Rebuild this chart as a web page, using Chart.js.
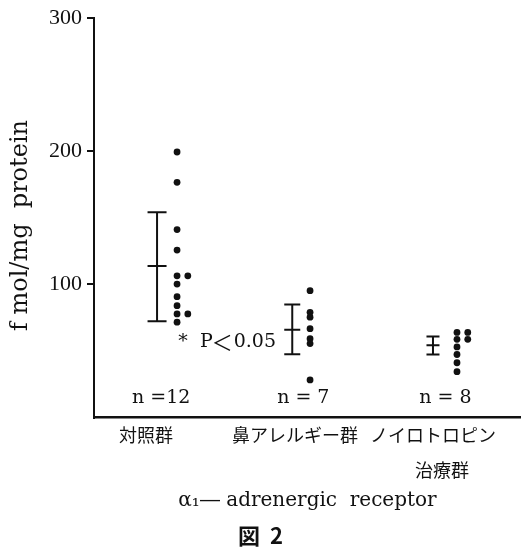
<!DOCTYPE html>
<html lang="ja">
<head>
<meta charset="UTF-8">
<title>α1-adrenergic receptor</title>
<style>
  body {
    margin: 0;
    padding: 0;
    background: #fff;
  }
</style>
</head>
<body>
<canvas id="receptorChart" width="521" height="555"></canvas>

<script src="https://cdn.jsdelivr.net/npm/chart.js"></script>
<script>
  // groups on the x axis
  const categories = ['対照群', '鼻アレルギー群', ['ノイロトロピン', '\u3000治療群']];
  const labelPos = [0.92, 2.0, 3.0];
  const nLabels = ['n =12', 'n = 7', 'n = 8'];
  const nPos = [1.03, 2.06, 3.09];

  // individual values (fmol/mg protein), col = which dot column
  const controlVals = [199.5, 176.7, 141.2, 125.8, 106.5, 100.3, 90.8, 84.1, 77.9, 71.7, 106.5, 77.9];
  const controlCol  = [0, 0, 0, 0, 0, 0, 0, 0, 0, 0, 1, 1];
  const allergyVals = [95.3, 79.1, 75.4, 66.8, 59.3, 55.6, 28.3];
  const allergyCol  = [0, 0, 0, 0, 0, 0, 0];
  const treatedVals = [64.0, 58.8, 53.1, 47.4, 41.2, 34.5, 64.0, 58.8];
  const treatedCol  = [0, 0, 0, 0, 0, 0, 1, 1];

  // mean +/- SD
  const meanVals = [113.9, 66.0, 54.3];
  const sdHigh   = [154.3, 84.9, 61.0];
  const sdLow    = [72.4, 47.6, 47.4];

  const yTicks = [100, 200, 300];

  // placement of the marks along x
  const barX = [1.0, 1.98, 3.0];
  const dotX = [1.145, 2.109, 3.174];
  const colGap = 0.078;
  const capHalf = [9.5, 8, 6.5];

  const groups = [
    [controlVals, controlCol],
    [allergyVals, allergyCol],
    [treatedVals, treatedCol]
  ];

  const dots = [];
  groups.forEach(([vals, cols], g) => {
    vals.forEach((v, i) => dots.push({ x: dotX[g] + cols[i] * colGap, y: v }));
  });

  const caps = [];
  const capRadius = [];
  barX.forEach((x, g) => {
    [sdLow[g], meanVals[g], sdHigh[g]].forEach(v => {
      caps.push({ x: x, y: v });
      capRadius.push(capHalf[g]);
    });
  });

  const ink = '#111';

  const stems = barX.map((x, g) => ({
    type: 'line',
    data: [{ x: x, y: sdLow[g] }, { x: x, y: sdHigh[g] }],
    showLine: true,
    borderColor: ink,
    borderWidth: 2,
    pointRadius: 0
  }));

  // n = .. labels and the significance note
  const notesPlugin = {
    id: 'notes',
    afterDatasetsDraw(chart) {
      const { ctx, scales: { x, y } } = chart;
      ctx.save();
      ctx.fillStyle = ink;
      ctx.textBaseline = 'middle';
      ctx.textAlign = 'center';
      ctx.font = '19px "DejaVu Serif"';
      nLabels.forEach((t, i) => {
        ctx.fillText(t, x.getPixelForValue(nPos[i]), y.getPixelForValue(15));
      });

      // "* P＜0.05", right edge just left of the second error bar
      const py = y.getPixelForValue(56.8);
      let px = x.getPixelForValue(1.862);
      ctx.textAlign = 'right';
      ctx.fillText('0.05', px, py);
      px -= ctx.measureText('0.05').width + 1;
      ctx.font = '21px "Noto Sans CJK JP"';
      ctx.fillText('\uFF1C', px, py);
      px -= ctx.measureText('\uFF1C').width - 1;
      ctx.font = '19px "DejaVu Serif"';
      ctx.fillText('*  P', px, py);
      ctx.restore();
    }
  };

  const receptorChart = new Chart(
    document.getElementById('receptorChart'),
    {
      type: 'scatter',
      data: {
        datasets: [
          ...stems,
          {
            data: caps,
            pointStyle: 'line',
            pointRadius: capRadius,
            borderColor: ink,
            borderWidth: 2
          },
          {
            data: dots,
            pointRadius: 3.4,
            backgroundColor: ink,
            borderWidth: 0
          }
        ]
      },
      options: {
        responsive: false,
        animation: false,
        events: [],
        layout: {
          autoPadding: false,
          padding: { top: 15, right: 0, bottom: 0, left: 0 }
        },
        plugins: {
          legend: { display: false },
          tooltip: { enabled: false },
          title: {
            display: true,
            position: 'bottom',
            text: '図  2',
            color: ink,
            font: { family: '"Noto Sans CJK JP"', size: 22, weight: 'bold' },
            padding: { top: 0, bottom: 6 }
          }
        },
        scales: {
          x: {
            type: 'linear',
            min: 0.543,
            max: 3.638,
            afterBuildTicks: (scale) => {
              scale.ticks = labelPos.map(v => ({ value: v }));
            },
            afterFit: (scale) => { scale.height = 105; },
            grid: { display: false, drawTicks: false },
            border: { display: true, color: ink, width: 2.5 },
            ticks: {
              autoSkip: false,
              maxRotation: 0,
              padding: 0,
              color: ink,
              font: { family: '"Noto Sans CJK JP"', size: 18, lineHeight: 1.95 },
              callback: (v, i) => categories[i]
            },
            title: {
              display: true,
              text: '\u03B1\u2081\u2015 adrenergic  receptor',
              color: ink,
              font: { family: '"DejaVu Serif"', size: 20 },
              padding: { top: 0, bottom: 10 }
            }
          },
          y: {
            min: 0,
            max: 300,
            afterBuildTicks: (scale) => {
              scale.ticks = [0, ...yTicks].map(v => ({ value: v }));
            },
            afterFit: (scale) => { scale.width = 94; },
            grid: {
              drawOnChartArea: false,
              drawTicks: true,
              tickLength: 7,
              lineWidth: 2,
              color: (c) => (c.tick && c.tick.value === 0 ? 'rgba(0,0,0,0)' : ink)
            },
            border: { display: true, color: ink, width: 2 },
            ticks: {
              padding: 5,
              color: ink,
              font: { family: '"Liberation Serif"', size: 22 },
              callback: (v) => (v === 0 ? '' : v)
            },
            title: {
              display: true,
              // trailing spaces nudge the rotated text down a little
              text: 'f mol/mg  protein  ',
              color: ink,
              font: { family: '"DejaVu Serif"', size: 24 },
              padding: { top: 6, bottom: 0 }
            }
          }
        }
      },
      plugins: [notesPlugin]
    }
  );
</script>
</body>
</html>
